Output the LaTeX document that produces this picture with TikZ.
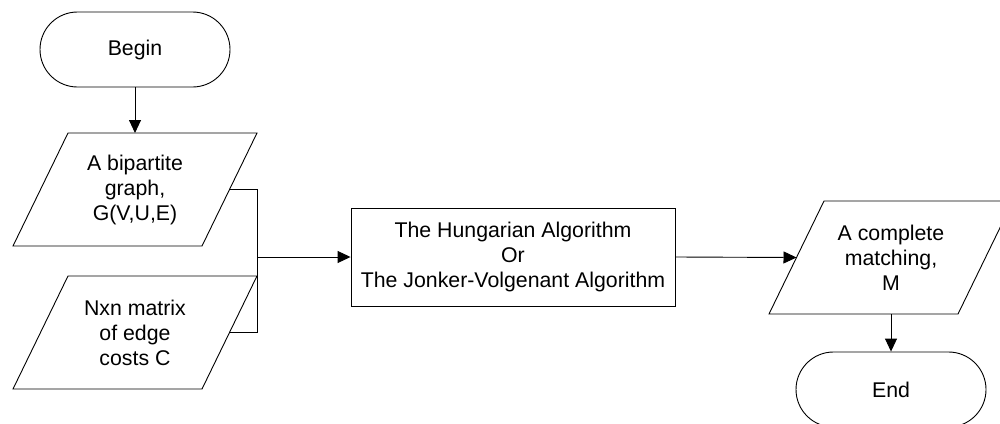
\documentclass[tikz,border=0pt]{standalone}
\usepackage{fontspec}
\setmainfont{Liberation Sans}
\usetikzlibrary{arrows.meta,calc}
\tikzset{
  shapeline/.style={draw=black,line width=0.9pt},
  txt/.style={font=\fontsize{21.3}{25}\selectfont,align=center,inner sep=0pt},
  terminal/.style={shapeline,txt,rounded corners=37.5pt,minimum width=190pt,minimum height=75pt},
  procbox/.style={shapeline,txt,minimum width=324pt,minimum height=98pt},
  conn/.style={line width=0.9pt,-{Triangle[length=13pt,width=12pt]}},
  plainline/.style={line width=0.9pt},
}
\newcommand\paranode[3]{%
  \node[txt] (#1) at #2 {#3};
  \draw[shapeline] ($(#1.center)+(-67,-56.5)$) -- ($(#1.center)+(122,-56.5)$)
     -- ($(#1.center)+(67,56.5)$) -- ($(#1.center)+(-122,56.5)$) -- cycle;
  \coordinate (#1-l) at ($(#1.center)+(-94.5,0)$);
  \coordinate (#1-r) at ($(#1.center)+(94.5,0)$);
  \coordinate (#1-n) at ($(#1.center)+(0,-56.5)$);
  \coordinate (#1-s) at ($(#1.center)+(0,56.5)$);
}
\begin{document}
\begin{tikzpicture}[x=1pt,y=-1pt]
\useasboundingbox (0,0) rectangle (1000,423);
\node[terminal] (begin) at (135,49.5) {Begin};
\paranode{in1}{(135,189.5)}{A bipartite\\graph,\\G(V,U,E)}
\paranode{in2}{(135,332.5)}{Nxn matrix\\of edge\\costs C}
\node[procbox] (alg) at (513,257) {The Hungarian Algorithm\\Or\\The Jonker-Volgenant Algorithm};
\paranode{out}{(891,257.5)}{A complete\\matching,\\M}
\node[terminal] (end) at (891,389.5) {End};
\coordinate (br) at (257,0);
\draw[conn] (begin.south) -- (in1-n);
\draw[plainline] (in1-r) -- (br |- in1-r) -- (br |- in2-r) -- (in2-r);
\draw[conn] (br |- alg.west) -- (alg.west);
\draw[conn] (alg.east) -- (out-l);
\draw[conn] (out-s) -- (end.north);
\end{tikzpicture}
\end{document}
